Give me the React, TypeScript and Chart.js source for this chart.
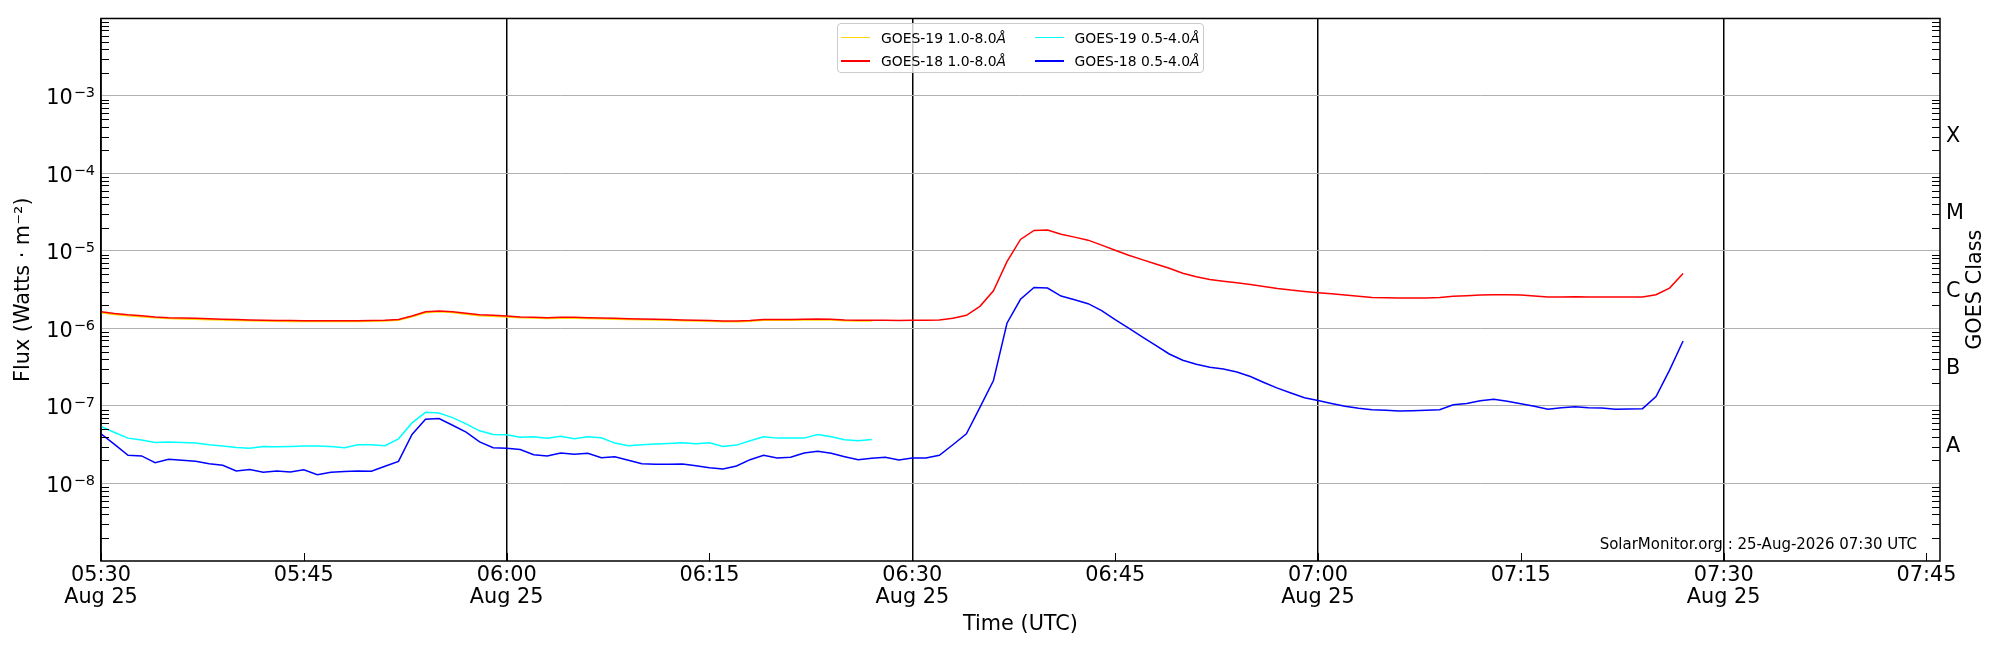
import { useEffect, useRef } from 'react';
import { Chart, registerables } from 'chart.js';

Chart.register(...registerables);

const FONT = "'DejaVu Sans', sans-serif";
const LABEL_SIZE = 20.8;

// time axis, in minutes after 00:00 UTC
const START_MIN = 330; // first sample 05:30
const AXIS_MIN = 330;
const AXIS_MAX = 466;
const X_TICKS = [330, 345, 360, 375, 390, 405, 420, 435, 450, 465];
const DATE_LABEL = 'Aug 25';

// flux axis
const Y_MIN = 1e-9;
const Y_MAX = 1e-2;
const Y_DECADES = [1e-9, 1e-8, 1e-7, 1e-6, 1e-5, 1e-4, 1e-3, 1e-2];
const Y_LABEL_EXPONENTS = [-8, -7, -6, -5, -4, -3];
const CLASS_VALUES = [3e-8, 3e-7, 3e-6, 3e-5, 3e-4];
const CLASS_LABELS = ['A', 'B', 'C', 'M', 'X'];

const WATERMARK = 'SolarMonitor.org : 25-Aug-2026 07:30 UTC';

// 1-minute samples starting 05:30
const goes18Long = [
  1.64e-6, 1.56e-6, 1.50e-6, 1.46e-6, 1.41e-6, 1.38e-6, 1.37e-6, 1.36e-6, 1.34e-6, 1.32e-6,
  1.31e-6, 1.29e-6, 1.28e-6, 1.27e-6, 1.27e-6, 1.26e-6, 1.26e-6, 1.26e-6, 1.26e-6, 1.26e-6,
  1.27e-6, 1.28e-6, 1.31e-6, 1.45e-6, 1.64e-6, 1.68e-6, 1.65e-6, 1.57e-6, 1.50e-6, 1.48e-6,
  1.45e-6, 1.41e-6, 1.40e-6, 1.38e-6, 1.40e-6, 1.40e-6, 1.38e-6, 1.37e-6, 1.36e-6, 1.34e-6,
  1.33e-6, 1.32e-6, 1.31e-6, 1.29e-6, 1.28e-6, 1.27e-6, 1.25e-6, 1.25e-6, 1.27e-6, 1.31e-6,
  1.31e-6, 1.31e-6, 1.32e-6, 1.33e-6, 1.32e-6, 1.29e-6, 1.28e-6, 1.28e-6, 1.28e-6, 1.27e-6,
  1.28e-6, 1.28e-6, 1.29e-6, 1.36e-6, 1.48e-6, 1.93e-6, 3.07e-6, 7.30e-6, 1.41e-5, 1.84e-5,
  1.86e-5, 1.64e-5, 1.51e-5, 1.38e-5, 1.19e-5, 1.02e-5, 8.80e-6, 7.74e-6, 6.81e-6, 6.00e-6,
  5.17e-6, 4.65e-6, 4.29e-6, 4.08e-6, 3.89e-6, 3.70e-6, 3.49e-6, 3.29e-6, 3.13e-6, 3.01e-6,
  2.90e-6, 2.81e-6, 2.70e-6, 2.60e-6, 2.52e-6, 2.50e-6, 2.47e-6, 2.47e-6, 2.47e-6, 2.52e-6,
  2.60e-6, 2.65e-6, 2.70e-6, 2.73e-6, 2.73e-6, 2.70e-6, 2.62e-6, 2.55e-6, 2.55e-6, 2.57e-6,
  2.55e-6, 2.55e-6, 2.55e-6, 2.55e-6, 2.55e-6, 2.73e-6, 3.32e-6, 5.12e-6,
];

const goes18Short = [
  4.38e-8, 3.20e-8, 2.31e-8, 2.27e-8, 1.86e-8, 2.05e-8, 1.99e-8, 1.93e-8, 1.80e-8, 1.72e-8,
  1.45e-8, 1.51e-8, 1.40e-8, 1.45e-8, 1.41e-8, 1.50e-8, 1.30e-8, 1.40e-8, 1.43e-8, 1.45e-8,
  1.44e-8, 1.67e-8, 1.93e-8, 4.29e-8, 6.75e-8, 6.89e-8, 5.65e-8, 4.59e-8, 3.45e-8, 2.89e-8,
  2.84e-8, 2.75e-8, 2.35e-8, 2.27e-8, 2.47e-8, 2.38e-8, 2.45e-8, 2.15e-8, 2.22e-8, 1.99e-8,
  1.80e-8, 1.77e-8, 1.77e-8, 1.79e-8, 1.70e-8, 1.60e-8, 1.54e-8, 1.68e-8, 2.03e-8, 2.31e-8,
  2.13e-8, 2.18e-8, 2.47e-8, 2.60e-8, 2.45e-8, 2.22e-8, 2.03e-8, 2.11e-8, 2.18e-8, 2.01e-8,
  2.13e-8, 2.13e-8, 2.31e-8, 3.16e-8, 4.37e-8, 9.61e-8, 2.13e-7, 1.17e-6, 2.38e-6, 3.39e-6,
  3.32e-6, 2.62e-6, 2.35e-6, 2.09e-6, 1.70e-6, 1.30e-6, 1.01e-6, 7.82e-7, 6.05e-7, 4.69e-7,
  3.89e-7, 3.45e-7, 3.16e-7, 3.01e-7, 2.75e-7, 2.40e-7, 2.01e-7, 1.70e-7, 1.47e-7, 1.28e-7,
  1.18e-7, 1.08e-7, 9.90e-8, 9.33e-8, 8.97e-8, 8.80e-8, 8.63e-8, 8.71e-8, 8.80e-8, 8.97e-8,
  1.04e-7, 1.08e-7, 1.17e-7, 1.22e-7, 1.15e-7, 1.07e-7, 9.90e-8, 9.06e-8, 9.52e-8, 9.80e-8,
  9.52e-8, 9.42e-8, 9.06e-8, 9.15e-8, 9.24e-8, 1.32e-7, 2.90e-7, 6.89e-7,
];

const goes19Long = [
  1.60e-6, 1.52e-6, 1.46e-6, 1.42e-6, 1.38e-6, 1.35e-6, 1.33e-6, 1.32e-6, 1.30e-6, 1.29e-6,
  1.27e-6, 1.26e-6, 1.25e-6, 1.24e-6, 1.23e-6, 1.23e-6, 1.23e-6, 1.23e-6, 1.23e-6, 1.23e-6,
  1.24e-6, 1.25e-6, 1.28e-6, 1.42e-6, 1.60e-6, 1.64e-6, 1.61e-6, 1.53e-6, 1.46e-6, 1.44e-6,
  1.41e-6, 1.38e-6, 1.37e-6, 1.35e-6, 1.36e-6, 1.36e-6, 1.35e-6, 1.34e-6, 1.32e-6, 1.31e-6,
  1.30e-6, 1.29e-6, 1.28e-6, 1.26e-6, 1.25e-6, 1.24e-6, 1.22e-6, 1.22e-6, 1.24e-6, 1.28e-6,
  1.28e-6, 1.28e-6, 1.29e-6, 1.30e-6, 1.29e-6, 1.26e-6, 1.25e-6, 1.25e-6,
];

const goes19Short = [
  5.43e-8, 4.55e-8, 3.85e-8, 3.63e-8, 3.39e-8, 3.42e-8, 3.39e-8, 3.32e-8, 3.16e-8, 3.04e-8,
  2.92e-8, 2.86e-8, 3.01e-8, 2.98e-8, 3.01e-8, 3.04e-8, 3.04e-8, 3.01e-8, 2.89e-8, 3.16e-8,
  3.16e-8, 3.07e-8, 3.77e-8, 6.05e-8, 8.29e-8, 8.13e-8, 7.08e-8, 5.87e-8, 4.78e-8, 4.28e-8,
  4.25e-8, 3.96e-8, 4.01e-8, 3.85e-8, 4.08e-8, 3.78e-8, 4.01e-8, 3.89e-8, 3.32e-8, 3.07e-8,
  3.16e-8, 3.23e-8, 3.29e-8, 3.36e-8, 3.26e-8, 3.36e-8, 3.01e-8, 3.13e-8, 3.56e-8, 4.01e-8,
  3.85e-8, 3.85e-8, 3.85e-8, 4.29e-8, 4.01e-8, 3.66e-8, 3.56e-8, 3.70e-8,
];

// legend, column-major like the original
const LEGEND_ITEMS = [
  { name: 'GOES-19 1.0-8.0', color: '#ffd700' },
  { name: 'GOES-18 1.0-8.0', color: '#ff0000' },
  { name: 'GOES-19 0.5-4.0', color: '#00ffff' },
  { name: 'GOES-18 0.5-4.0', color: '#0000ff' },
];

const toPoints = (vals: number[]) => vals.map((y, i) => ({ x: START_MIN + i, y }));

const hhmm = (m: number) =>
  `${String(Math.floor(m / 60)).padStart(2, '0')}:${String(m % 60).padStart(2, '0')}`;

const isEdge = (v: number) =>
  Math.abs(Math.log10(v) - Math.log10(Y_MIN)) < 1e-6 || Math.abs(Math.log10(v) - Math.log10(Y_MAX)) < 1e-6;

// frame, inward ticks, y labels with superscripts, watermark, right title
const decorPlugin = {
  id: 'decor',
  afterDraw(chart: any) {
    const { ctx, chartArea: a, scales } = chart;
    const x = scales.x;
    const y = scales.y;
    ctx.save();
    ctx.strokeStyle = '#000';
    ctx.lineWidth = 1;
    ctx.beginPath();
    for (let e = -9; e <= -3; e++) {
      for (let m = 2; m <= 9; m++) {
        const py = Math.round(y.getPixelForValue(m * Math.pow(10, e))) + 0.5;
        ctx.moveTo(a.left, py);
        ctx.lineTo(a.left + 8, py);
        ctx.moveTo(a.right, py);
        ctx.lineTo(a.right - 8, py);
      }
    }
    for (const t of X_TICKS) {
      const px = Math.round(x.getPixelForValue(t)) + 0.5;
      ctx.moveTo(px, a.bottom);
      ctx.lineTo(px, a.bottom - 8);
    }
    ctx.stroke();

    ctx.lineWidth = 1.5;
    ctx.strokeRect(a.left, a.top, a.right - a.left, a.bottom - a.top);

    ctx.fillStyle = '#000';
    ctx.textBaseline = 'alphabetic';
    ctx.textAlign = 'right';
    for (const e of Y_LABEL_EXPONENTS) {
      const py = y.getPixelForValue(Math.pow(10, e));
      const sup = `\u2212${-e}`;
      ctx.font = `14.5px ${FONT}`;
      const sw = ctx.measureText(sup).width;
      ctx.fillText(sup, a.left - 6, py + 1.5);
      ctx.font = `${LABEL_SIZE}px ${FONT}`;
      ctx.fillText('10', a.left - 7 - sw, py + 8.5);
    }

    ctx.font = `15px ${FONT}`;
    ctx.fillText(WATERMARK, a.right - 23, a.bottom - 12);

    ctx.translate(a.right + 36, (a.top + a.bottom) / 2);
    ctx.rotate(-Math.PI / 2);
    ctx.textAlign = 'center';
    ctx.textBaseline = 'middle';
    ctx.font = `${LABEL_SIZE}px ${FONT}`;
    ctx.fillText('GOES Class', 0, 0);
    ctx.restore();
  },
};

function GoesChart() {
  const canvasRef = useRef<HTMLCanvasElement>(null);
  const chartRef = useRef<Chart | null>(null);

  useEffect(() => {
    if (!canvasRef.current) return;
    if (chartRef.current) chartRef.current.destroy();

    const line = (label: string, data: number[], color: string) => ({
      label,
      data: toPoints(data),
      borderColor: color,
      backgroundColor: color,
      borderWidth: 1.5,
      pointRadius: 0,
      tension: 0,
      fill: false,
      xAxisID: 'x',
      yAxisID: 'y',
    });

    chartRef.current = new Chart(canvasRef.current, {
      type: 'line',
      data: {
        // index 0 is drawn last (on top)
        datasets: [
          line('GOES-18 0.5-4.0Å', goes18Short, '#0000ff'),
          line('GOES-19 0.5-4.0Å', goes19Short, '#00ffff'),
          line('GOES-18 1.0-8.0Å', goes18Long, '#ff0000'),
          line('GOES-19 1.0-8.0Å', goes19Long, '#ffd700'),
        ],
      },
      options: {
        responsive: true,
        maintainAspectRatio: false,
        animation: false,
        events: [],
        layout: { padding: { top: 15, left: 0, right: 0, bottom: 0 } },
        plugins: {
          legend: { display: false },
          tooltip: { enabled: false },
        },
        scales: {
          x: {
            type: 'linear',
            position: 'bottom',
            min: AXIS_MIN,
            max: AXIS_MAX,
            afterBuildTicks: (s: any) => {
              s.ticks = X_TICKS.map((value) => ({ value }));
            },
            afterFit: (s: any) => {
              s.height = 89;
            },
            border: { display: false },
            grid: {
              drawTicks: false,
              lineWidth: 1.5,
              color: (c: any) => (c.tick && c.tick.value % 30 === 0 ? '#000000' : 'rgba(0,0,0,0)'),
            },
            ticks: {
              autoSkip: false,
              maxRotation: 0,
              padding: 3,
              color: '#000',
              font: { family: FONT, size: LABEL_SIZE, lineHeight: 1.08 },
              callback: (v: any) => (v % 30 === 0 ? [hhmm(v), DATE_LABEL] : hhmm(v)),
            },
            title: {
              display: true,
              text: 'Time (UTC)',
              color: '#000',
              font: { family: FONT, size: LABEL_SIZE },
              padding: { top: 0, bottom: 13 },
            },
          },
          y: {
            type: 'logarithmic',
            position: 'left',
            min: Y_MIN,
            max: Y_MAX,
            afterBuildTicks: (s: any) => {
              s.ticks = Y_DECADES.map((value) => ({ value }));
            },
            afterFit: (s: any) => {
              s.width = 101;
            },
            border: { display: false },
            grid: {
              drawTicks: false,
              lineWidth: 1,
              color: (c: any) => (c.tick && isEdge(c.tick.value) ? 'rgba(0,0,0,0)' : '#b0b0b0'),
            },
            ticks: { display: false },
            title: {
              display: true,
              text: 'Flux (Watts · m⁻²)',
              color: '#000',
              font: { family: FONT, size: LABEL_SIZE },
              padding: { top: 11, bottom: 0 },
            },
          },
          y2: {
            type: 'logarithmic',
            position: 'right',
            min: Y_MIN,
            max: Y_MAX,
            afterBuildTicks: (s: any) => {
              s.ticks = CLASS_VALUES.map((value) => ({ value }));
            },
            afterFit: (s: any) => {
              s.width = 60;
            },
            border: { display: false },
            grid: { display: false, drawOnChartArea: false, drawTicks: false },
            ticks: {
              autoSkip: false,
              padding: 6,
              color: '#000',
              font: { family: FONT, size: LABEL_SIZE },
              callback: (_v: any, i: number) => CLASS_LABELS[i],
            },
          },
        },
      } as any,
      plugins: [decorPlugin],
    });

    return () => {
      if (chartRef.current) {
        chartRef.current.destroy();
        chartRef.current = null;
      }
    };
  }, []);

  return (
    <div style={{ position: 'relative', width: '2000px', height: '650px' }}>
      <canvas ref={canvasRef}></canvas>
      <div
        style={{
          position: 'absolute',
          left: '837px',
          top: '23px',
          width: '367px',
          height: '50px',
          boxSizing: 'border-box',
          border: '1px solid #cccccc',
          borderRadius: '4px',
          background: 'rgba(255,255,255,0.8)',
          fontFamily: FONT,
          fontSize: '13.9px',
          color: '#000',
        }}
      >
        {LEGEND_ITEMS.map((item, i) => {
          const col = Math.floor(i / 2);
          const row = i % 2;
          const top = row === 0 ? 13.5 : 37;
          const left = col === 0 ? 3 : 196.5;
          return (
            <div key={item.name}>
              <div
                style={{
                  position: 'absolute',
                  left: `${left}px`,
                  top: `${top - 0.75}px`,
                  width: '29px',
                  height: '1.5px',
                  background: item.color,
                }}
              />
              <div
                style={{
                  position: 'absolute',
                  left: `${left + 40}px`,
                  top: `${top - 9}px`,
                  height: '18px',
                  lineHeight: '18px',
                  whiteSpace: 'nowrap',
                }}
              >
                {item.name}
                <i>Å</i>
              </div>
            </div>
          );
        })}
      </div>
    </div>
  );
}

export default function App() {
  return (
    <div
      style={{
        position: 'absolute',
        left: 0,
        top: 0,
        width: '2000px',
        height: '650px',
        overflow: 'hidden',
        background: '#fff',
      }}
    >
      <GoesChart />
    </div>
  );
}
